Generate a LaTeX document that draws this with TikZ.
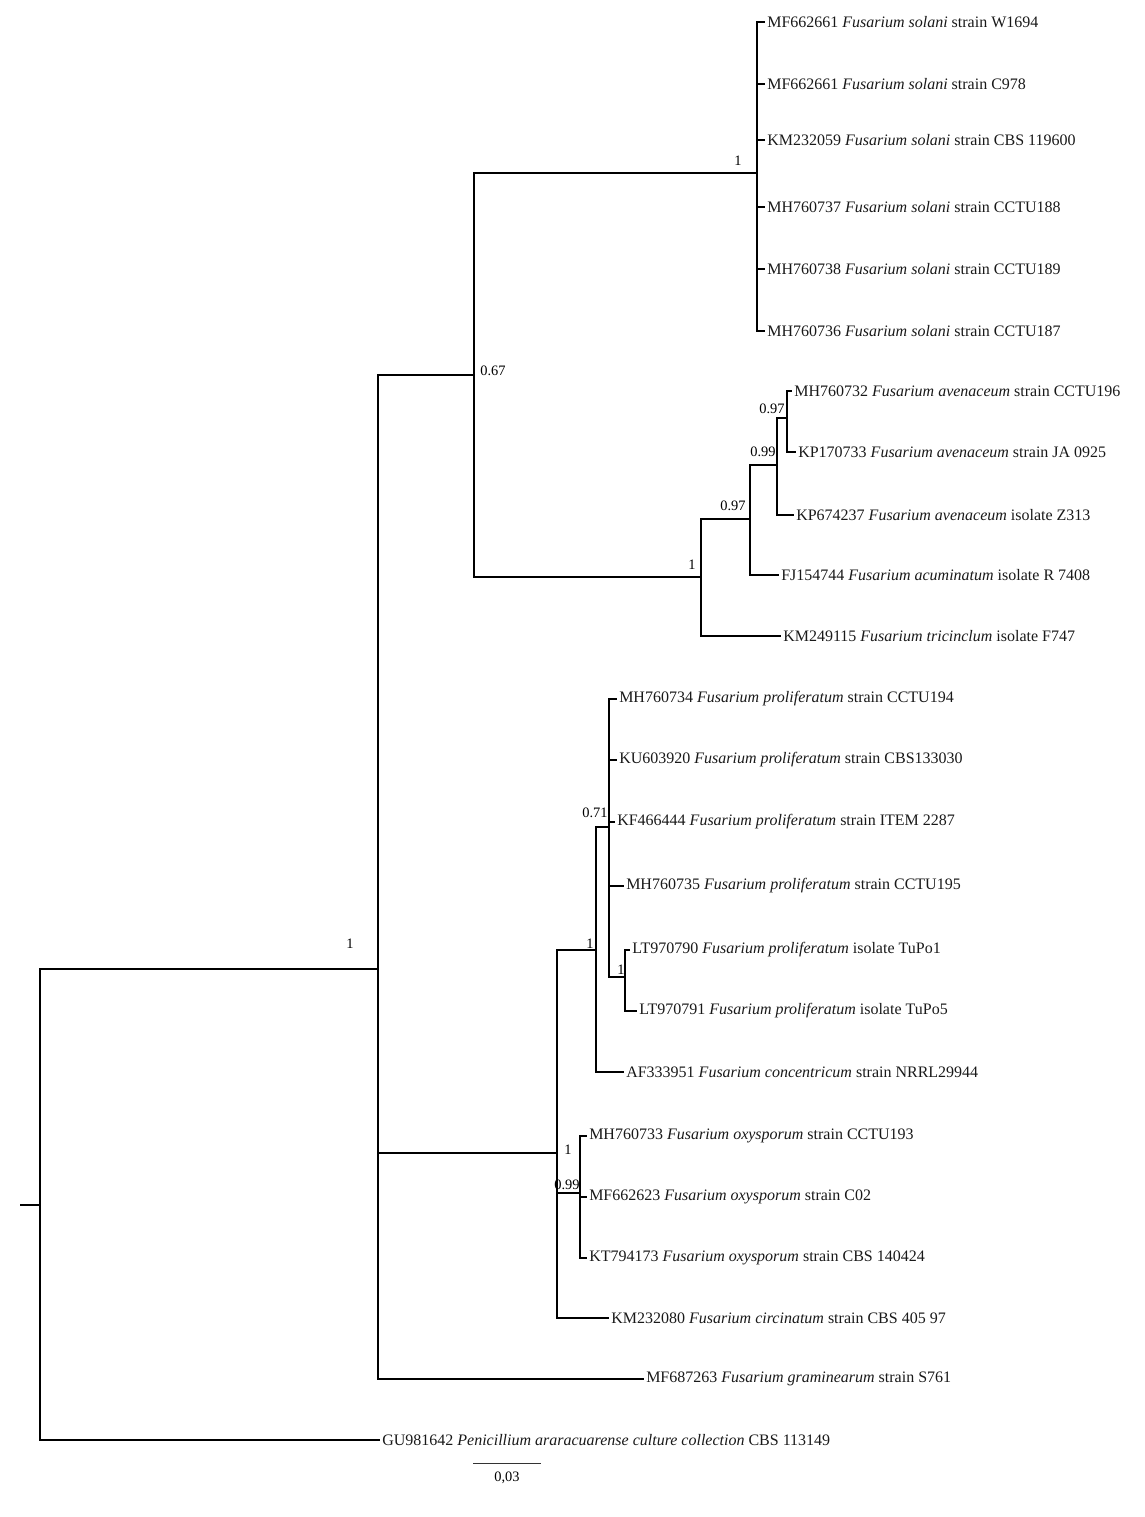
\documentclass[tikz,border=0pt]{standalone}
\usepackage{fontspec}
\setmainfont{Liberation Serif}
\usetikzlibrary{positioning}

\begin{document}
\begin{tikzpicture}[
				x=0.75pt, y=-0.75pt,
				% Defining styles
				branch/.style={line width=0.8pt, draw=black},
				taxon/.style={anchor=west, inner sep=1.5pt, text=black!90, font=\fontsize{12}{14}\selectfont},
				support/.style={inner sep=0pt, font=\fontsize{10.8}{12}\selectfont},
				scalebar/.style={line width=0.7pt, draw=black!80}
			]
			\useasboundingbox (0,0) rectangle (1145,1517);

			% Internal nodes of the tree
			\coordinate (stub) at (20,1205);
			\coordinate (root) at (40,1205);
			\coordinate (nIn) at (378,969);
			\coordinate (nA) at (474,375);
			\coordinate (nSol) at (757,173);
			\coordinate (nAv) at (701,577);
			\coordinate (nAv2) at (750,519);
			\coordinate (nAv3) at (777,465);
			\coordinate (nAv4) at (787,418);
			\coordinate (nB) at (557,1153);
			\coordinate (nPro) at (596,950);
			\coordinate (nPro2) at (609,827);
			\coordinate (nTu) at (625,977);
			\coordinate (nOxy) at (580,1193);

			% Taxa
			\node[taxon] (s1) at (765,22) {MF662661 \textit{Fusarium solani} strain W1694};
			\node[taxon] (s2) at (765,84) {MF662661 \textit{Fusarium solani} strain C978};
			\node[taxon] (s3) at (765,140) {KM232059 \textit{Fusarium solani} strain CBS 119600};
			\node[taxon] (s4) at (765,207) {MH760737 \textit{Fusarium solani} strain CCTU188};
			\node[taxon] (s5) at (765,269) {MH760738 \textit{Fusarium solani} strain CCTU189};
			\node[taxon] (s6) at (765,331) {MH760736 \textit{Fusarium solani} strain CCTU187};
			\node[taxon] (a1) at (792,391) {MH760732 \textit{Fusarium avenaceum} strain CCTU196};
			\node[taxon] (a2) at (796,452) {KP170733 \textit{Fusarium avenaceum} strain JA 0925};
			\node[taxon] (a3) at (794,515) {KP674237 \textit{Fusarium avenaceum} isolate Z313};
			\node[taxon] (a4) at (779,575) {FJ154744 \textit{Fusarium acuminatum} isolate R 7408};
			\node[taxon] (a5) at (781,636) {KM249115 \textit{Fusarium tricinclum} isolate F747};
			\node[taxon] (p1) at (617,699) {MH760734 \textit{Fusarium proliferatum} strain CCTU194};
			\node[taxon] (p2) at (617,760) {KU603920 \textit{Fusarium proliferatum} strain CBS133030};
			\node[taxon] (p3) at (615,822) {KF466444 \textit{Fusarium proliferatum} strain ITEM 2287};
			\node[taxon] (p4) at (624,886) {MH760735 \textit{Fusarium proliferatum} strain CCTU195};
			\node[taxon] (p5) at (630,950) {LT970790 \textit{Fusarium proliferatum} isolate TuPo1};
			\node[taxon] (p6) at (637,1011) {LT970791 \textit{Fusarium proliferatum} isolate TuPo5};
			\node[taxon] (p7) at (624,1072) {AF333951 \textit{Fusarium concentricum} strain NRRL29944};
			\node[taxon] (o1) at (587,1136) {MH760733 \textit{Fusarium oxysporum} strain CCTU193};
			\node[taxon] (o2) at (587,1197) {MF662623 \textit{Fusarium oxysporum} strain C02};
			\node[taxon] (o3) at (587,1258) {KT794173 \textit{Fusarium oxysporum} strain CBS 140424};
			\node[taxon] (o4) at (609,1318) {KM232080 \textit{Fusarium circinatum} strain CBS 405 97};
			\node[taxon] (g1) at (644,1379) {MF687263 \textit{Fusarium graminearum} strain S761};
			\node[taxon] (out) at (380,1440) {GU981642 \textit{Penicillium araracuarense culture collection} CBS 113149};

			% Drawing branches between internal nodes
			\draw[branch] (stub) -- (root);
			\foreach \p/\c in {root/nIn, nIn/nA, nIn/nB, nA/nSol, nA/nAv, nAv/nAv2, nAv2/nAv3, nAv3/nAv4,
					nB/nPro, nB/nOxy, nPro/nPro2, nPro2/nTu}
				\draw[branch] (\p) |- (\c);

			% Drawing branches to the taxa
			\foreach \p/\c in {root/out, nIn/g1, nSol/s1, nSol/s2, nSol/s3, nSol/s4, nSol/s5, nSol/s6,
					nAv/a5, nAv2/a4, nAv3/a3, nAv4/a1, nAv4/a2,
					nB/o4, nPro/p7, nPro2/p1, nPro2/p2, nPro2/p3, nPro2/p4, nTu/p5, nTu/p6,
					nOxy/o1, nOxy/o2, nOxy/o3}
				\draw[branch] (\p) |- (\c.west);

			% Adding support values
			\node[support] (b1) at (350,944) {1};
			\node[support] (b2) at (493,371) {0.67};
			\node[support] (b3) at (738,161) {1};
			\node[support] (b4) at (692,565) {1};
			\node[support] (b5) at (733,506) {0.97};
			\node[support] (b6) at (763,452) {0.99};
			\node[support] (b7) at (772,409) {0.97};
			\node[support] (b8) at (590,944) {1};
			\node[support] (b9) at (595,813) {0.71};
			\node[support] (b10) at (621,970) {1};
			\node[support] (b11) at (568,1150) {1};
			\node[support] (b12) at (567,1185) {0.99};

			% Scale bar
			\coordinate (sbL) at (473,1463);
			\coordinate (sbR) at (541,1463);
			\draw[scalebar] (sbL) -- (sbR);
			\node[support] (sb) at (507,1478) {0,03};

		\end{tikzpicture}
\end{document}
